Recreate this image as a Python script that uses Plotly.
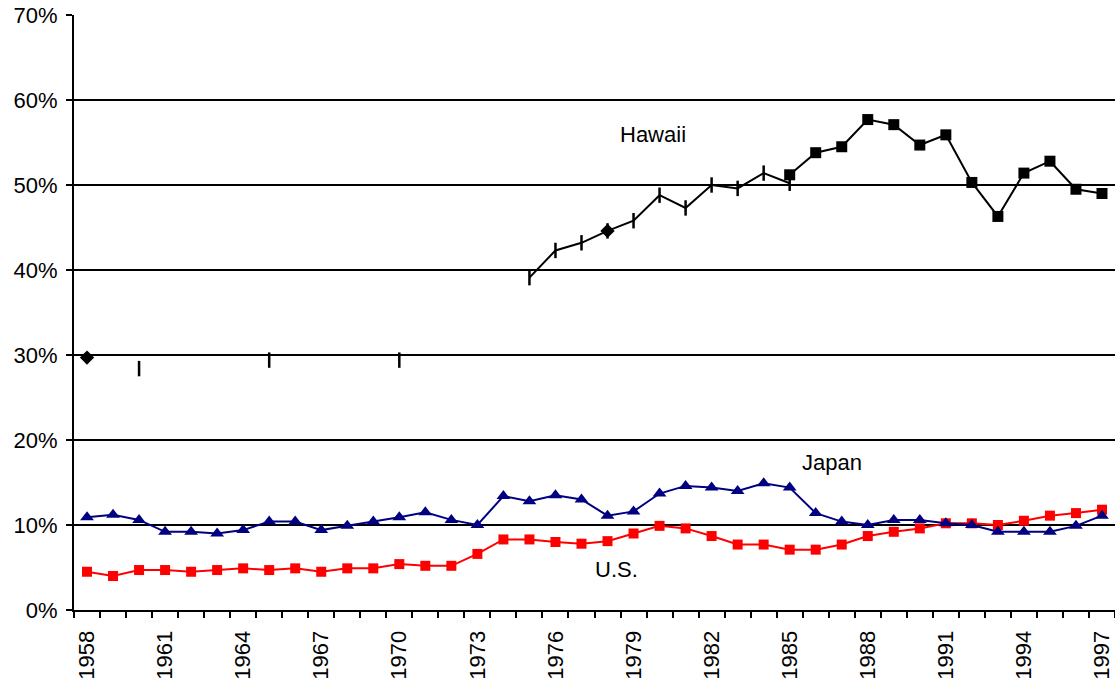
import plotly.graph_objects as go

years = list(range(1958, 1998))

us = [4.5, 4.0, 4.7, 4.7, 4.5, 4.7, 4.9, 4.7, 4.9, 4.5,
      4.9, 4.9, 5.4, 5.2, 5.2, 6.6, 8.3, 8.3, 8.0, 7.8,
      8.1, 9.0, 9.9, 9.6, 8.7, 7.7, 7.7, 7.1, 7.1, 7.7,
      8.7, 9.2, 9.6, 10.2, 10.2, 10.0, 10.5, 11.1, 11.4, 11.8]

japan = [10.9, 11.2, 10.6, 9.2, 9.2, 9.0, 9.4, 10.4, 10.4, 9.4,
         9.9, 10.4, 10.9, 11.5, 10.6, 10.0, 13.4, 12.8, 13.5, 13.0,
         11.1, 11.6, 13.7, 14.6, 14.4, 14.0, 14.9, 14.4, 11.4, 10.4,
         10.0, 10.6, 10.6, 10.2, 10.0, 9.2, 9.2, 9.2, 9.9, 11.1]

# Hawaii, older estimates (dash markers), 1958-1997 with gaps
hawaii_old = [None, None, 28.4, None, None, None, None, 29.4, None, None,
              None, None, 29.4, None, None, None, None, 39.1, 42.3, 43.2,
              44.6, 45.8, 48.8, 47.3, 50.0, 49.6, 51.4, 50.2, None, None,
              None, None, None, None, None, None, None, None, None, None]

# Hawaii, diamond points
hawaii_diamond = [29.7] + [None] * 19 + [44.6] + [None] * 19

# Hawaii, newer series (squares)
hawaii_new = [None] * 27 + [51.2, 53.8, 54.5, 57.7, 57.1, 54.7, 55.9,
                            50.3, 46.3, 51.4, 52.8, 49.5, 49.0]

ytick_vals = [0, 10, 20, 30, 40, 50, 60, 70]
ytick_text = ["0%", "10%", "20%", "30%", "40%", "50%", "60%", "70%"]
xtick_vals = list(range(1958, 1998, 3))
xtick_text = [str(y) for y in xtick_vals]

FONT = "Liberation Sans, Arial, sans-serif"

fig = go.Figure()

fig.add_trace(go.Scatter(
    x=years, y=us, mode="lines+markers", name="U.S.",
    line=dict(color="#FF0000", width=2),
    marker=dict(symbol="square", size=10, color="#FF0000"),
))
fig.add_trace(go.Scatter(
    x=years, y=japan, mode="lines+markers", name="Japan",
    line=dict(color="#000080", width=2),
    marker=dict(symbol="triangle-up", size=12, color="#000080"),
))
fig.add_trace(go.Scatter(
    x=years, y=hawaii_old, mode="lines+markers", name="Hawaii (old)",
    connectgaps=False,
    line=dict(color="black", width=2),
    marker=dict(symbol="line-ns", size=11, color="black",
                line=dict(color="black", width=2.5)),
))
fig.add_trace(go.Scatter(
    x=years, y=hawaii_diamond, mode="markers", name="Hawaii (diamond)",
    marker=dict(symbol="diamond", size=11, color="black"),
))
fig.add_trace(go.Scatter(
    x=years, y=hawaii_new, mode="lines+markers", name="Hawaii",
    connectgaps=False,
    line=dict(color="black", width=2),
    marker=dict(symbol="square", size=11, color="black"),
))

annots = [
    dict(x=1979.76, y=56.0, text="Hawaii"),
    dict(x=1986.63, y=17.3, text="Japan"),
    dict(x=1978.35, y=4.8, text="U.S."),
]
for a in annots:
    fig.add_annotation(x=a["x"], y=a["y"], text=a["text"], showarrow=False,
                       xanchor="center", yanchor="middle",
                       font=dict(family=FONT, size=22, color="black"))

fig.update_layout(
    width=1115, height=680,
    margin=dict(l=74, r=0, t=15, b=70, autoexpand=False),
    paper_bgcolor="white", plot_bgcolor="white",
    showlegend=False,
    font=dict(family=FONT, size=22, color="black"),
)

fig.update_xaxes(
    range=[1957.5, 1997.5],
    automargin=False,
    tickmode="array", tickvals=xtick_vals, ticktext=xtick_text,
    tickangle=-90,
    ticks="",
    ticklabeloverflow="allow",
    showgrid=False, zeroline=False,
    showline=True, linecolor="black", linewidth=2,
    tickfont=dict(family=FONT, size=22, color="black"),
    ticklabelstandoff=10,
    minor=dict(tick0=1957.5, dtick=1, ticks="outside", ticklen=6,
               tickwidth=2, tickcolor="black", showgrid=False),
)

fig.update_yaxes(
    range=[0, 70],
    automargin=False,
    tickmode="array", tickvals=ytick_vals, ticktext=ytick_text,
    ticks="outside", ticklen=6, tickwidth=2, tickcolor="black",
    showgrid=True, gridcolor="black", gridwidth=2,
    zeroline=False,
    showline=True, linecolor="black", linewidth=2,
    tickfont=dict(family=FONT, size=22, color="black"),
    ticklabelstandoff=4,
)

fig.write_html(
    "out.html",
    config={"displayModeBar": False},
    post_script="document.body.style.margin='0px';document.body.style.overflow='hidden';",
)
